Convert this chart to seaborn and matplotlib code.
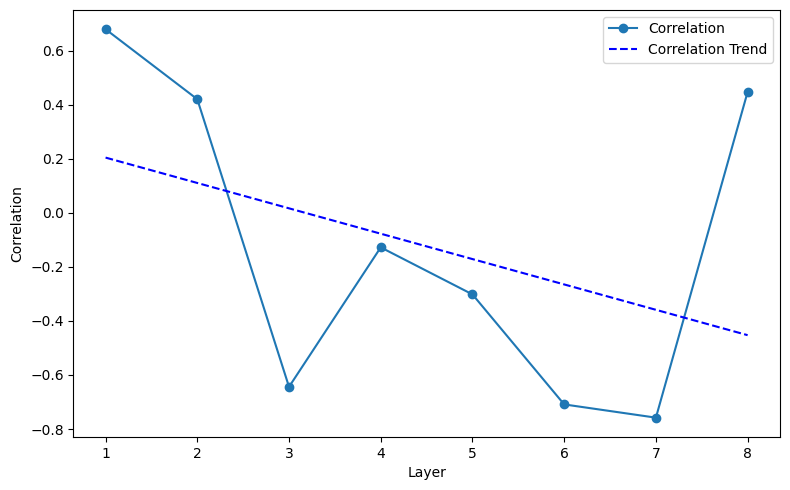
import numpy as np
import pandas as pd
import seaborn as sns
import matplotlib
matplotlib.use('Agg')
import matplotlib.pyplot as plt

# per-layer correlation values
layers = [1, 2, 3, 4, 5, 6, 7, 8]
correlation = [0.679, 0.420, -0.644, -0.128, -0.302, -0.709, -0.758, 0.447]

df = pd.DataFrame({'Layer': layers, 'Correlation': correlation})

# linear trend through the points
slope, intercept = np.polyfit(df['Layer'], df['Correlation'], 1)
df['Trend'] = slope * df['Layer'] + intercept

fig, ax = plt.subplots(figsize=(7.9, 4.9), dpi=100)

sns.lineplot(data=df, x='Layer', y='Correlation', marker='o', markersize=6,
             markeredgewidth=1, markeredgecolor='#1f77b4', color='#1f77b4',
             label='Correlation', ax=ax)
sns.lineplot(data=df, x='Layer', y='Trend', color='blue', linestyle='--',
             label='Correlation Trend', ax=ax)

ax.set_xlabel('Layer')
ax.set_ylabel('Correlation')
ax.legend(loc='upper right')

fig.subplots_adjust(left=0.093, right=0.987, top=0.98, bottom=0.108)
plt.savefig('out.png', dpi=100)
